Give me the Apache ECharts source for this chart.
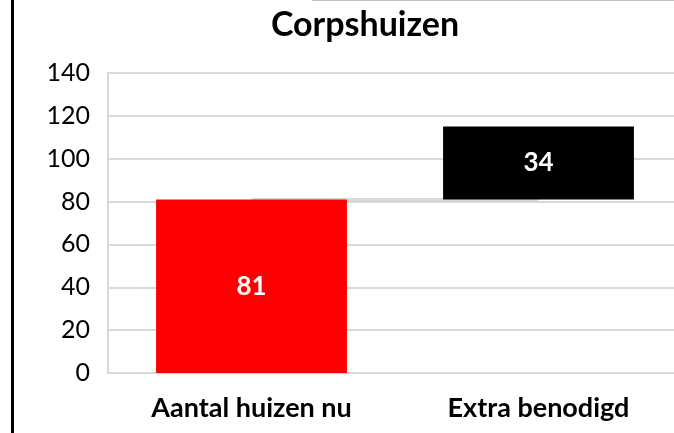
<!DOCTYPE html>
<html>
<head>
<meta charset="utf-8">
<script src="https://cdn.jsdelivr.net/npm/echarts@6/dist/echarts.min.js"></script>
<style>
  html, body { margin: 0; padding: 0; background: #fff; }
  #main { width: 674px; height: 433px; }
</style>
</head>
<body>
<div id="main"></div>
<script>
// data
var categories = ['Aantal huizen nu', 'Extra benodigd'];
var baseValues = [0, 81];      // invisible offset for waterfall
var barValues = [81, 34];
var barColors = ['#ff0000', '#000000'];
var connectorValues = [81, 81];
var yTicks = { min: 0, max: 140, interval: 20 };

var myChart = echarts.init(document.getElementById('main'));
var font = 'Lato, "Open Sans", sans-serif';

myChart.setOption({
  animation: false,
  title: {
    text: 'Corpshuizen',
    left: 360,
    top: 3,
    textAlign: 'center',
    textStyle: { fontFamily: font, fontSize: 34, fontWeight: 'bold', color: '#000' }
  },
  grid: { left: 108, top: 73, bottom: 60, right: -8, outerBoundsMode: 'none' },
  xAxis: {
    type: 'category',
    data: categories,
    axisTick: { show: false },
    axisLine: { lineStyle: { color: '#d9d9d9', width: 2 } },
    axisLabel: { fontFamily: font, fontSize: 27, fontWeight: 'bold', color: '#000', margin: 22 }
  },
  yAxis: {
    type: 'value',
    min: yTicks.min,
    max: yTicks.max,
    interval: yTicks.interval,
    axisLine: { show: true, lineStyle: { color: '#d9d9d9', width: 2 } },
    axisTick: { show: false },
    splitLine: { lineStyle: { color: '#d9d9d9', width: 2 } },
    axisLabel: { fontFamily: font, fontSize: 25, color: '#000', margin: 18 }
  },
  series: [
    {
      type: 'line',
      data: connectorValues,
      symbol: 'none',
      z: 1,
      lineStyle: { color: '#d9d9d9', width: 3 },
      silent: true
    },
    {
      type: 'bar',
      stack: 'w',
      data: baseValues,
      itemStyle: { color: 'transparent' },
      barCategoryGap: '33.5%',
      z: 3,
      silent: true
    },
    {
      type: 'bar',
      stack: 'w',
      z: 3,
      data: barValues.map(function (v, i) {
        return { value: v, itemStyle: { color: barColors[i] } };
      }),
      label: {
        show: true,
        position: 'inside',
        color: '#fff',
        fontFamily: font,
        fontSize: 26,
        fontWeight: 'bold'
      }
    }
  ],
  graphic: [
    { type: 'rect', shape: { x: 11, y: 0, width: 3, height: 433 }, style: { fill: '#000' } },
    { type: 'line', shape: { x1: 312, y1: 0.5, x2: 674, y2: 0.5 }, style: { stroke: '#bfbfbf', lineWidth: 1 } }
  ]
});
</script>
</body>
</html>
